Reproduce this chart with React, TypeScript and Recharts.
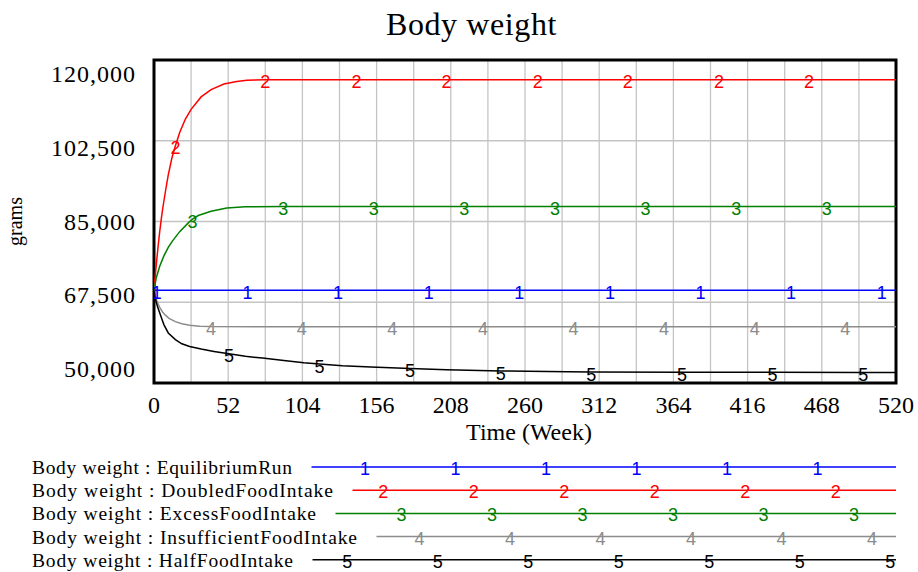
import React from 'react';
import { LineChart, Line, XAxis, YAxis, CartesianGrid, ReferenceArea, Legend } from 'recharts';

// ---------------- data ----------------
const chartTitle = 'Body weight';
const xLabel = 'Time (Week)';
const yLabel = 'grams';
const legendPrefix = 'Body weight : ';

const seriesNames = ['EquilibriumRun', 'DoubledFoodIntake', 'ExcessFoodIntake', 'InsufficientFoodIntake', 'HalfFoodIntake'];
const seriesColors = ['#0000ff', '#ff0000', '#008000', '#8c8c8c', '#000000'];
const seriesDigits = ['1', '2', '3', '4', '5'];

const xTicks = [0, 26, 52, 78, 104, 130, 156, 182, 208, 234, 260, 286, 312, 338, 364, 390, 416, 442, 468, 494, 520];
const yTicks = [50000, 67500, 85000, 102500, 120000];

const eqTimes = [0, 2, 65.5, 129, 192.5, 256, 319.5, 383, 446.5, 510, 520];
const eqValues = [70100, 70100, 70100, 70100, 70100, 70100, 70100, 70100, 70100, 70100, 70100];
const eqMarkers = [2, 65.5, 129, 192.5, 256, 319.5, 383, 446.5, 510];

const dblTimes = [0, 1, 2, 3, 4, 5, 6, 8, 10, 12.5, 15, 18, 22, 26, 33, 40, 49, 58, 65, 78, 142, 205, 269, 332, 396, 459, 520];
const dblValues = [70100, 73700, 76900, 80000, 82800, 85300, 87600, 91500, 95100, 98700, 101400, 104300, 107200, 109300, 112000, 113600, 114800, 115350, 115600, 115700, 115700, 115700, 115700, 115700, 115700, 115700, 115700];
const dblMarkers = [15, 78, 142, 205, 269, 332, 396, 459];

const excTimes = [0, 1.5, 4, 7, 10, 13, 18, 24, 27, 31, 40, 51, 64, 90.5, 154, 217.5, 281, 344.5, 408, 471.5, 520];
const excValues = [70100, 72700, 75300, 77600, 79400, 80800, 82800, 84700, 85500, 86300, 87200, 87900, 88200, 88250, 88250, 88250, 88250, 88250, 88250, 88250, 88250];
const excMarkers = [27, 90.5, 154, 217.5, 281, 344.5, 408, 471.5];

const insTimes = [0, 1, 2.5, 4, 6, 8, 10.5, 15, 19.5, 25, 32, 40, 103.5, 167, 230.5, 294, 357.5, 421, 484.5, 520];
const insValues = [70100, 68700, 67400, 66400, 65400, 64700, 64000, 63300, 62850, 62500, 62300, 62220, 62200, 62200, 62200, 62200, 62200, 62200, 62200, 62200];
const insMarkers = [40, 103.5, 167, 230.5, 294, 357.5, 421, 484.5];

const halfTimes = [0, 1, 2.5, 5, 7, 10, 15, 19.5, 25, 33, 42, 52.5, 64, 76, 91, 105, 116, 132, 152, 179.5, 205, 243, 290, 306.5, 370, 433.5, 497, 520];
const halfValues = [70100, 68200, 66500, 64300, 62600, 60850, 59400, 58500, 57900, 57350, 56850, 56330, 55800, 55400, 54900, 54400, 54100, 53750, 53450, 53150, 52850, 52600, 52420, 52380, 52350, 52320, 52300, 52290];
const halfMarkers = [52.5, 116, 179.5, 243, 306.5, 370, 433.5, 497];

// ---------------- helpers ----------------
type Pt = { t: number; v: number; m: boolean };
const build = (times: number[], values: number[], markers: number[]): Pt[] =>
  times.map((t, i) => ({ t, v: values[i], m: markers.includes(t) }));

const seriesData: Pt[][] = [
  build(eqTimes, eqValues, eqMarkers),
  build(dblTimes, dblValues, dblMarkers),
  build(excTimes, excValues, excMarkers),
  build(insTimes, insValues, insMarkers),
  build(halfTimes, halfValues, halfMarkers),
];

const SERIF = "'Liberation Serif', 'Times New Roman', serif";
const SANS = "'Liberation Sans', Arial, sans-serif";

const W = 918;
const H = 572;
const M = { top: 60, right: 22, left: 0, bottom: 0 };
const Y_AXIS_W = 154;
const X_AXIS_H = 189;

const makeDot = (digit: string, color: string, k: number) => (props: any) => {
  const { cx, cy, payload, index } = props;
  if (!payload || !payload.m || cx == null || cy == null) return <g key={`e${k}-${index}`} />;
  return (
    <text key={`d${k}-${index}`} x={cx} y={cy + 8.5} textAnchor="middle" fontFamily={SANS} fontSize={18} fill={color}>
      {digit}
    </text>
  );
};

const YTick = (props: any) => {
  const { x, y, payload } = props;
  const v = payload.value as number;
  const shift = ((v - 85000) / 17500) * 7;
  return (
    <text x={x} y={y + shift + 8} textAnchor="end" fontFamily={SERIF} fontSize={24} letterSpacing={1} fill="#000">
      {v.toLocaleString('en-US')}
    </text>
  );
};

const XTick = (props: any) => {
  const { x, y, payload } = props;
  const v = payload.value as number;
  if (v % 52 !== 0) return <g />;
  return (
    <text x={x} y={y + 30} textAnchor="middle" fontFamily={SERIF} fontSize={24} fill="#000">
      {String(v)}
    </text>
  );
};

// legend layout (styling only)
const legendTextWidths = [260, 301, 284, 325, 261];
const legendRowBaseline = (k: number) => 24 + 23.2 * k;

const LegendBlock = () => {
  return (
    <svg width={W} height={122} style={{ display: 'block' }}>
      {seriesNames.map((name, k) => {
        const base = legendRowBaseline(k);
        const lineY = base - 7;
        const x0 = 32 + legendTextWidths[k] + 19.5;
        const x1 = 896;
        const digits: number[] = [];
        let p = 365 + 18.2 * k;
        while (p - 90.5 >= x0) p -= 90.5;
        for (; p <= x1; p += 90.5) digits.push(p);
        return (
          <g key={name}>
            <text x={32} y={base} fontFamily={SERIF} fontSize={19.5} fill="#000" textLength={legendTextWidths[k]} lengthAdjust="spacing">
              {legendPrefix + name}
            </text>
            <line x1={x0} x2={x1} y1={lineY} y2={lineY} stroke={seriesColors[k]} strokeWidth={1.5} />
            {digits.map((dx, i) => (
              <text key={i} x={dx} y={lineY + 8} textAnchor="middle" fontFamily={SANS} fontSize={18} fill={seriesColors[k]}>
                {seriesDigits[k]}
              </text>
            ))}
          </g>
        );
      })}
    </svg>
  );
};

export default function App() {
  return (
    <div style={{ position: 'absolute', left: 0, top: 0, width: W, height: H, background: '#fff' }}>
      <LineChart width={W} height={H} margin={M}>
        <CartesianGrid stroke="#c4c4c4" strokeWidth={1.3} />
        <XAxis
          type="number"
          dataKey="t"
          domain={[0, 520]}
          ticks={xTicks}
          interval={0}
          height={X_AXIS_H}
          axisLine={false}
          tickLine={false}
          tickSize={0}
          tickMargin={0}
          tick={<XTick />}
          allowDataOverflow
          label={{
            value: xLabel,
            content: (p: any) => {
              const vb = p.viewBox || { x: 154, y: 383, width: 742 };
              return (
                <text x={vb.x + vb.width / 2 + 4} y={vb.y + 57} textAnchor="middle" fontFamily={SERIF} fontSize={24} fill="#000">
                  {xLabel}
                </text>
              );
            },
          }}
        />
        <YAxis
          type="number"
          domain={[50000, 120000]}
          ticks={yTicks}
          interval={0}
          width={Y_AXIS_W}
          axisLine={false}
          tickLine={false}
          tickSize={0}
          tickMargin={18}
          tick={<YTick />}
          allowDataOverflow
          label={{
            value: yLabel,
            content: (p: any) => {
              const vb = p.viewBox || { x: 0, y: 60, height: 323 };
              const cy = vb.y + vb.height / 2;
              return (
                <text x={22} y={cy} transform={`rotate(-90, 22, ${cy})`} textAnchor="middle" fontFamily={SERIF} fontSize={20} fill="#000">
                  {yLabel}
                </text>
              );
            },
          }}
        />
        {seriesNames.map((name, k) => (
          <Line
            key={name}
            name={name}
            data={seriesData[k]}
            dataKey="v"
            type="linear"
            stroke={seriesColors[k]}
            strokeWidth={1.5}
            dot={makeDot(seriesDigits[k], seriesColors[k], k)}
            activeDot={false}
            isAnimationActive={false}
          />
        ))}
        <ReferenceArea x1={0} x2={520} y1={50000} y2={120000} fill="none" fillOpacity={0} stroke="#000" strokeWidth={3} ifOverflow="visible" />
        <Legend
          layout="horizontal"
          verticalAlign="middle"
          align="center"
          wrapperStyle={{ position: 'absolute', top: 450, left: 0, width: W, height: 122 }}
          content={() => <LegendBlock />}
        />
      </LineChart>
      <svg width={W} height={50} style={{ position: 'absolute', left: 0, top: 0, pointerEvents: 'none' }}>
        <text x={471.5} y={35} textAnchor="middle" fontFamily={SERIF} fontSize={32} letterSpacing={0.6} fill="#000">
          {chartTitle}
        </text>
      </svg>
    </div>
  );
}
